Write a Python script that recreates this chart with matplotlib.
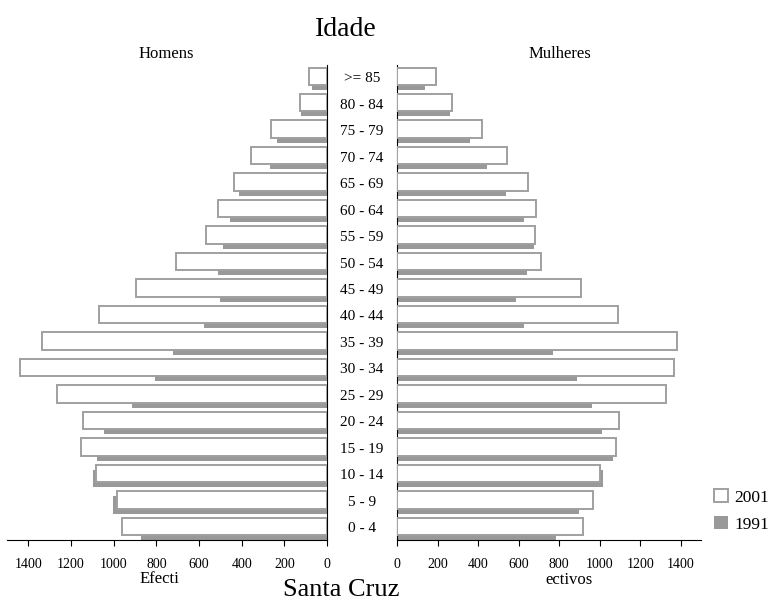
import numpy as np
import matplotlib
matplotlib.use("Agg")
import matplotlib.pyplot as plt
import matplotlib.transforms as mtransforms

plt.rcParams['font.family'] = ['Liberation Serif', 'DejaVu Serif']

idades = ["0 - 4", "5 - 9", "10 - 14", "15 - 19", "20 - 24", "25 - 29", "30 - 34",
          "35 - 39", "40 - 44", "45 - 49", "50 - 54", "55 - 59", "60 - 64",
          "65 - 69", "70 - 74", "75 - 79", "80 - 84", ">= 85"]

homens_2001 = [961, 985, 1085, 1152, 1146, 1265, 1439, 1336, 1070, 894, 706, 568, 509, 438, 355, 264, 127, 83]
homens_1991 = [874, 1002, 1099, 1079, 1047, 913, 805, 722, 578, 503, 511, 489, 456, 412, 268, 236, 122, 69]
mulheres_2001 = [919, 969, 1000, 1079, 1095, 1326, 1367, 1383, 1091, 909, 710, 679, 685, 647, 542, 417, 273, 192]
mulheres_1991 = [787, 899, 1018, 1066, 1011, 962, 889, 771, 626, 587, 641, 674, 626, 537, 442, 362, 260, 140]

ticks = [0, 200, 400, 600, 800, 1000, 1200, 1400]

cinza = "#999999"
borda = "#a0a0a0"

fig = plt.figure(figsize=(7.68, 6.06), dpi=100)
W, H = 768.0, 606.0
ax_h = fig.add_axes([7 / W, 66 / H, 320 / W, 475 / H])
ax_m = fig.add_axes([397 / W, 66 / H, 304 / W, 475 / H])

y = np.arange(len(idades))
alt = 0.66
desl = 0.095

for ax, v01, v91 in [(ax_h, homens_2001, homens_1991), (ax_m, mulheres_2001, mulheres_1991)]:
    b91 = ax.barh(y - desl, v91, height=alt, color=cinza, edgecolor="none", zorder=2, label="1991")
    b01 = ax.barh(y + desl, v01, height=alt, color="white", edgecolor=borda, linewidth=1.4, zorder=3, label="2001")
    ax.set_ylim(-0.425, 17.52)
    ax.set_yticks([])
    ax.set_xticks(ticks)
    ax.tick_params(axis="x", direction="out", length=4, width=0.8, labelsize=10, pad=9)
    ax.spines["top"].set_visible(False)

ax_h.set_xlim(1500, 0)
ax_h.spines["left"].set_visible(False)
ax_m.set_xlim(0, 1500)
ax_m.spines["right"].set_visible(False)

# rotulos das idades entre os dois paineis
tr = mtransforms.blended_transform_factory(fig.transFigure, ax_h.transData)
for yi, lab in zip(y, idades):
    fig.text(362 / W, yi, lab, transform=tr, ha="center", va="center", fontsize=11)

fig.text(346 / W, 1 - 30 / H, "Idade", ha="center", va="center", fontsize=20)
fig.text(166 / W, 1 - 54 / H, "Homens", ha="center", va="center", fontsize=12)
fig.text(560 / W, 1 - 54 / H, "Mulheres", ha="center", va="center", fontsize=12)
fig.text(140 / W, 1 - 579 / H, "Efecti", ha="left", va="center", fontsize=12)
fig.text(545 / W, 1 - 580 / H, "ectivos", ha="left", va="center", fontsize=12)
fig.text(341 / W, 1 - 590 / H, "Santa Cruz", ha="center", va="center", fontsize=19)

fig.legend(handles=[b01, b91], labels=["2001", "1991"], loc="center left",
           bbox_to_anchor=(698 / W, 1 - 511 / H), frameon=False, fontsize=12.5,
           handlelength=0.8, handleheight=0.8, handletextpad=0.4, labelspacing=0.6)

fig.savefig("out.png", dpi=100)
